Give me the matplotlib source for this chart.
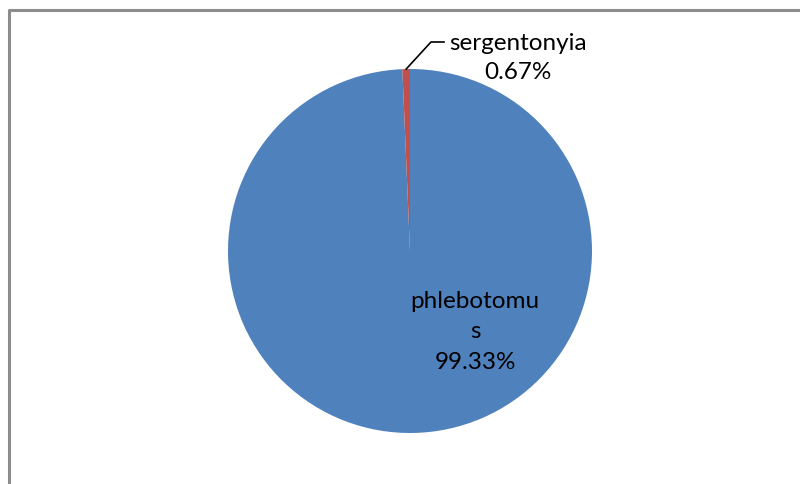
import numpy as np
import matplotlib.pyplot as plt

labels = ["phlebotomus", "sergentonyia"]
values = [99.33, 0.67]
colors = ["#4F81BD", "#C0504D"]

fig = plt.figure(figsize=(8, 4.85), dpi=100)
ax = fig.add_axes([0, 0, 1, 1])

cx, cy, r = 410, 233, 182
wedges, _ = ax.pie(values, colors=colors, startangle=90, counterclock=False,
                   center=(cx, cy), radius=r, frame=True)
ax.set_xlim(0, 800)
ax.set_ylim(0, 485)
ax.set_aspect("equal")
ax.axis("off")

# borde del área del gráfico (solo arriba e izquierda visibles)
ax.plot([8.5, 8.5, 800], [0, 474.5, 474.5], color="#8c8c8c", lw=2.2,
        solid_capstyle="butt")

font = "Lato"
fs = 17.5

# etiqueta interior
pct0 = f"{values[0]:.2f}%"
ax.text(475, 153, "phlebotomu\ns\n" + pct0, ha="center", va="center",
        fontsize=fs, family=font, linespacing=1.55)

# etiqueta exterior con línea guía
w = wedges[1]
ang = np.deg2rad((w.theta1 + w.theta2) / 2)
px, py = cx + r * np.cos(ang), cy + r * np.sin(ang)
ax.plot([px, 431, 444], [py, 442, 442], color="black", lw=1.2)
ax.text(518, 427, labels[1] + "\n" + f"{values[1]:.2f}%", ha="center",
        va="center", fontsize=fs, family=font, linespacing=1.5)

fig.savefig("out.png", dpi=100)
